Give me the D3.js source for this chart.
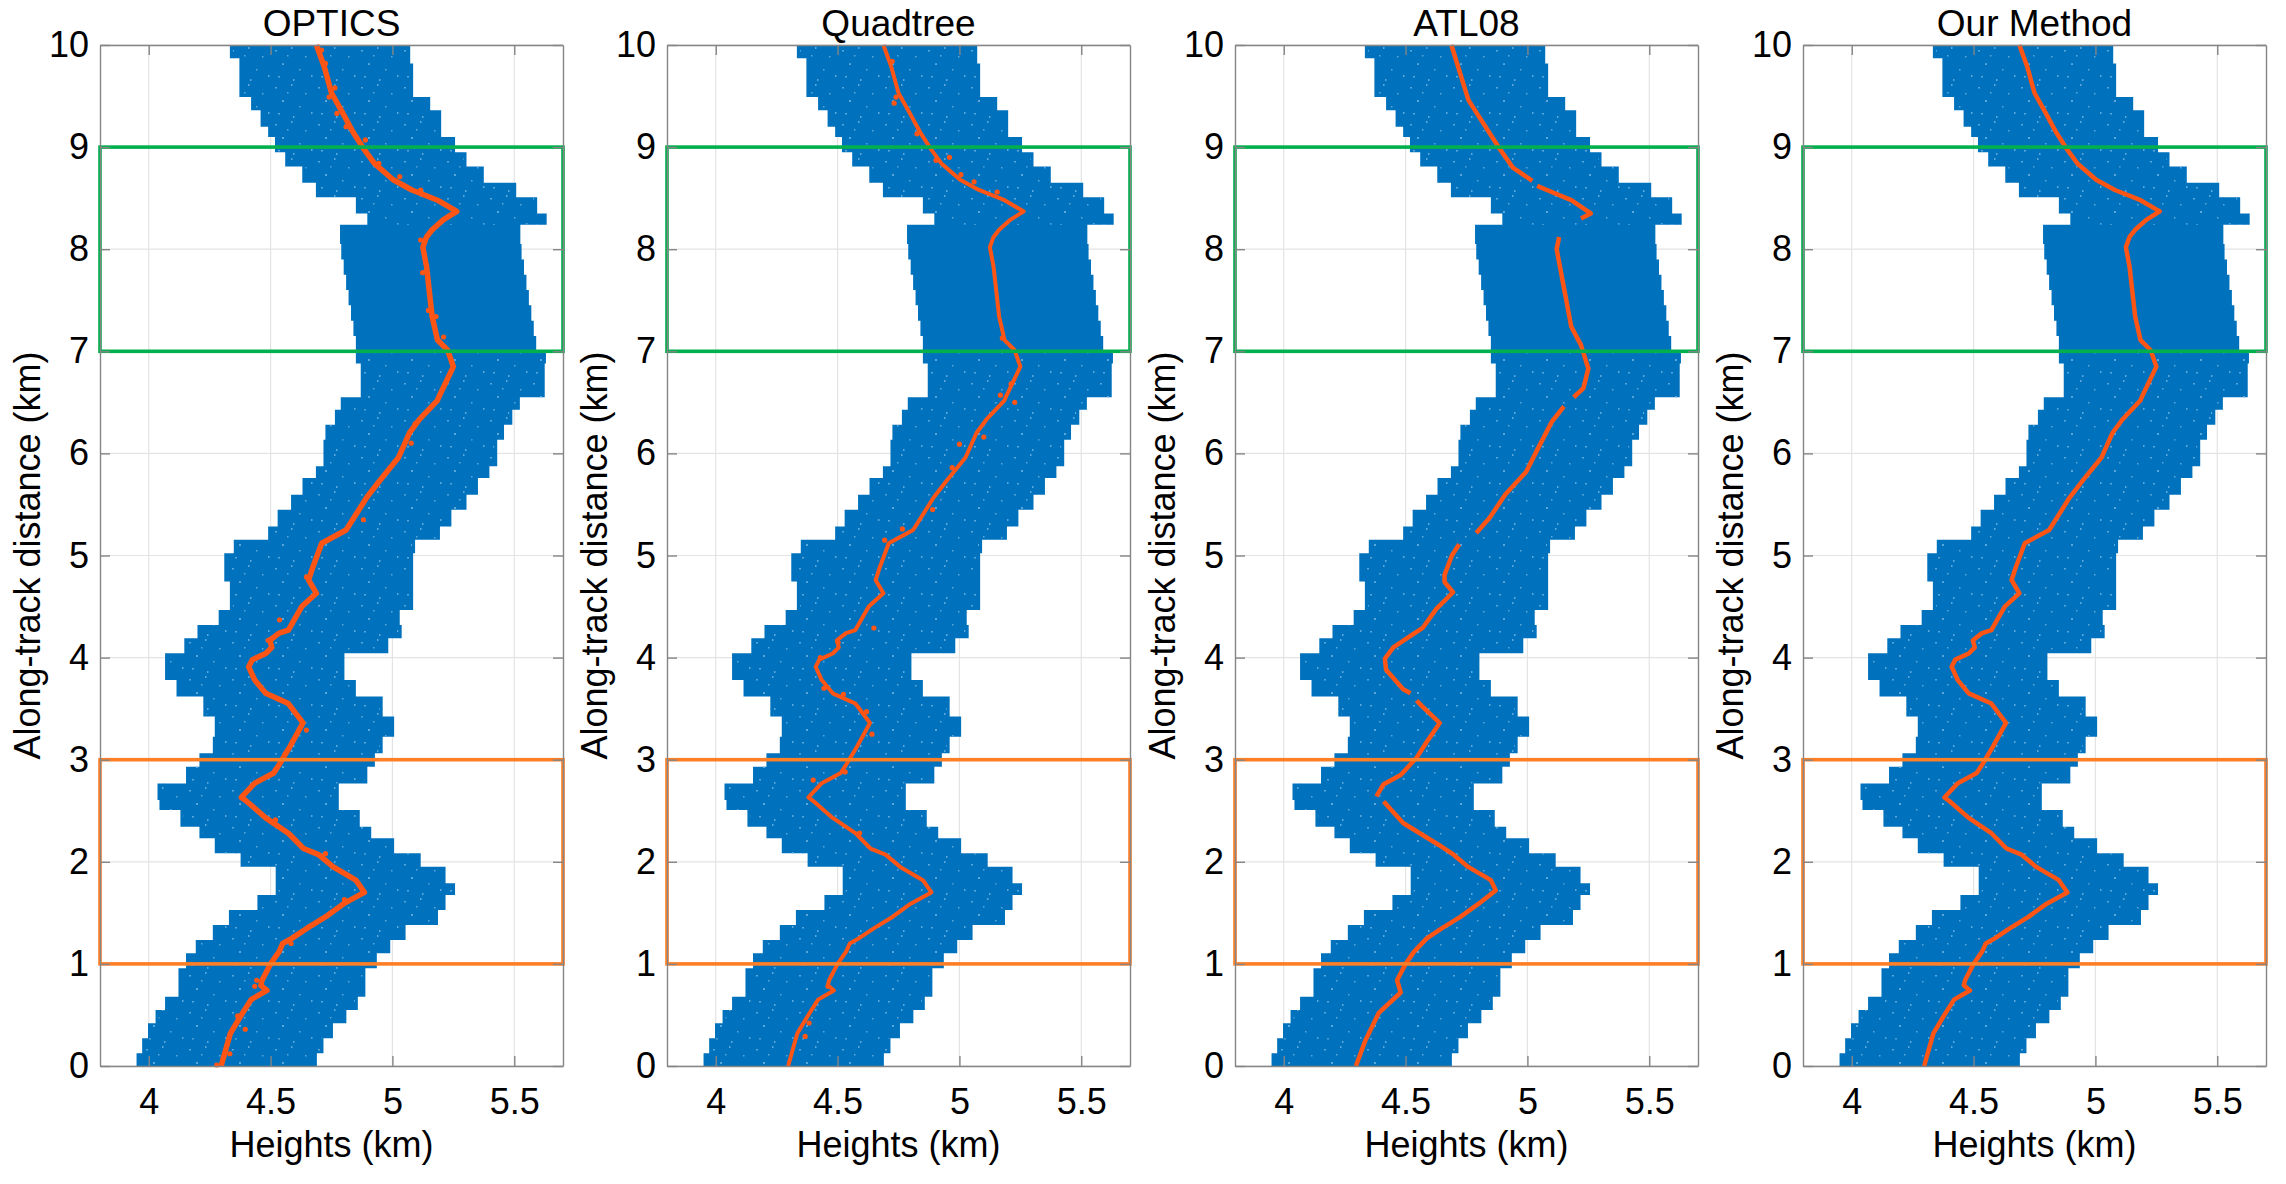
<!DOCTYPE html>
<html>
<head>
<meta charset="utf-8">
<script src="https://cdn.jsdelivr.net/npm/d3@7"></script>
<style>
body { margin: 0; background: #fff; }
svg { display: block; }
text { font-family: "Liberation Sans", Arial, sans-serif; fill: #000; }
</style>
</head>
<body>
<svg id="chart" width="2286" height="1184"></svg>
<script>
// panel titles and ticks
var panelTitles = ["OPTICS", "Quadtree", "ATL08", "Our Method"];
var xTicks = [4, 4.5, 5, 5.5];
var yTicks = [0, 1, 2, 3, 4, 5, 6, 7, 8, 9, 10];

// photon band: row boundaries (km) and left / right edge of each row (km)
var bandBreaks = [0, 0.125, 0.271, 0.418, 0.549, 0.679, 0.957, 1.104, 1.234, 1.381, 1.528, 1.675, 1.789, 1.952,
  2.083, 2.23, 2.344, 2.507, 2.605, 2.768, 2.932, 3.063, 3.226, 3.422, 3.618, 3.781, 4.042, 4.19, 4.32,
  4.467, 4.746, 5.023, 5.154, 5.285, 5.448, 5.595, 5.758, 5.873, 6.134, 6.281, 6.428, 6.55, 6.88, 7.01,
  7.15, 7.3, 7.45, 7.6, 7.75, 7.9, 8.05, 8.24, 8.35, 8.51, 8.65, 8.81, 8.95, 9.1, 9.2, 9.36, 9.49, 9.82,
  9.87, 10];
var bandLeft = [3.95, 3.973, 3.997, 4.028, 4.067, 4.122, 4.153, 4.193, 4.263, 4.329, 4.446, 4.521, 4.521,
  4.377, 4.271, 4.208, 4.13, 4.044, 4.036, 4.153, 4.208, 4.263, 4.271, 4.224, 4.114, 4.067, 4.146, 4.2,
  4.287, 4.333, 4.31, 4.349, 4.49, 4.529, 4.584, 4.631, 4.686, 4.717, 4.725, 4.764, 4.788, 4.87, 4.85,
  4.85, 4.84, 4.83, 4.82, 4.81, 4.8, 4.79, 4.785, 4.897, 4.85, 4.686, 4.63, 4.56, 4.518, 4.49, 4.459,
  4.42, 4.372, 4.372, 4.333];
var bandRight = [4.69, 4.717, 4.756, 4.811, 4.858, 4.889, 4.936, 4.991, 5.054, 5.187, 5.218, 5.257, 5.218,
  5.116, 5.007, 4.913, 4.866, 4.78, 4.78, 4.897, 4.928, 4.96, 5.007, 4.96, 4.85, 4.803, 4.983, 5.038,
  5.03, 5.085, 5.085, 5.093, 5.195, 5.242, 5.304, 5.351, 5.398, 5.43, 5.458, 5.492, 5.523, 5.625, 5.63,
  5.59, 5.58, 5.57, 5.56, 5.55, 5.54, 5.53, 5.525, 5.633, 5.594, 5.508, 5.375, 5.304, 5.257, 5.2, 5.2,
  5.155, 5.085, 5.073, 5.073];
// dense (noise free) stretch of the band, km
var denseBlock = [7.01, 8.24];

// extracted ground surface (OPTICS, Quadtree and Our Method follow the same path)
var groundY = [0, 0.32, 0.48, 0.65, 0.74, 0.79, 0.84, 1.0, 1.12, 1.2, 1.25, 1.35, 1.46, 1.59, 1.7, 1.82,
  1.95, 2.07, 2.13, 2.28, 2.43, 2.6, 2.63, 2.77, 2.87, 2.97, 3.13, 3.36, 3.55, 3.65, 3.78, 3.91, 3.98,
  4.04, 4.1, 4.17, 4.24, 4.27, 4.5, 4.63, 4.76, 4.89, 5.12, 5.25, 5.57, 5.74, 5.96, 6.2, 6.33, 6.52,
  6.55, 6.85, 7.01, 7.11, 7.34, 7.83, 8.02, 8.12, 8.19, 8.29, 8.37, 8.48, 8.58, 8.68, 8.84, 8.97, 9.14,
  9.36, 9.53, 9.79, 10];
var groundX = [4.297, 4.335, 4.375, 4.42, 4.485, 4.46, 4.465, 4.5, 4.535, 4.55, 4.587, 4.65, 4.725, 4.8,
  4.885, 4.85, 4.757, 4.697, 4.635, 4.573, 4.48, 4.398, 4.38, 4.435, 4.513, 4.54, 4.58, 4.633, 4.573,
  4.48, 4.435, 4.41, 4.425, 4.48, 4.505, 4.497, 4.535, 4.573, 4.628, 4.688, 4.656, 4.674, 4.71, 4.81,
  4.895, 4.95, 5.025, 5.07, 5.11, 5.185, 5.19, 5.25, 5.227, 5.185, 5.163, 5.14, 5.125, 5.14, 5.163,
  5.21, 5.264, 5.185, 5.08, 5.003, 4.926, 4.886, 4.84, 4.79, 4.75, 4.72, 4.688];

// ATL08 ground, null marks a gap
var atl08Y = [0, 0.25, 0.52, 0.72, 0.84, 1.0, 1.12, 1.25, 1.35, 1.46, 1.59, 1.72, 1.82, 1.95, 2.07, 2.16,
  2.38, 2.59, 2.61, 2.64, 2.76, 2.85, 3.02, 3.17, 3.36, 3.53, 3.58, 3.61, 3.65, 3.69, 3.88, 3.99, 4.1,
  4.18, 4.29, 4.48, 4.64, 4.74, 4.81, 5.0, 5.11, 5.16, 5.22, 5.37, 5.6, 5.82, 6.01, 6.31, 6.46, 6.5,
  6.55, 6.64, 6.83, 7.06, 7.24, 7.62, 8.0, 8.12, 8.2, 8.3, 8.35, 8.48, 8.58, 8.62, 8.64, 8.67, 8.8,
  8.97, 9.46, 10];
var atl08X = [4.296, 4.335, 4.39, 4.48, 4.465, 4.5, 4.535, 4.587, 4.65, 4.725, 4.8, 4.87, 4.85, 4.757,
  4.697, 4.64, 4.49, 4.41, null, 4.38, 4.41, 4.48, 4.545, 4.586, 4.64, 4.565, 4.545, null, 4.52, 4.49,
  4.42, 4.415, 4.45, 4.5, 4.57, 4.627, 4.695, 4.66, 4.66, 4.69, 4.72, null, 4.79, 4.845, 4.91, 4.995,
  5.035, 5.1, 5.15, null, 5.19, 5.23, 5.25, 5.22, 5.18, 5.15, 5.12, 5.13, null, 5.22, 5.26, 5.18, 5.08,
  5.04, null, 5.02, 4.94, 4.89, 4.758, 4.688];

// scattered surface photons left by OPTICS and Quadtree
var opticsNoiseX = [4.709, 4.725, 4.764, 4.74, 4.772, 4.81, 4.889, 4.944, 5.03, 5.116, 5.163, 5.116, 5.124,
  5.148, 5.179, 5.21, 5.093, 5.077, 4.881, 4.647, 4.537, 4.49, 4.537, 4.647, 4.56, 4.52, 4.52, 4.725,
  4.803, 4.584, 4.443, 4.435, 4.365, 4.396, 4.279, 4.333];
var opticsNoiseY = [9.95, 9.82, 9.58, 9.49, 9.33, 9.2, 9.07, 8.84, 8.71, 8.58, 8.19, 8.09, 7.77, 7.4, 7.34,
  7.14, 6.29, 6.1, 5.35, 4.79, 4.37, 4.17, 3.59, 3.29, 3.06, 2.9, 2.41, 2.08, 1.63, 1.2, 0.84, 0.78, 0.49,
  0.36, 0.01, 0.12];
var quadNoiseX = [4.724, 4.74, 4.732, 4.826, 4.904, 4.959, 5.006, 5.06, 5.155, 5.176, 5.212, 5.168, 5.227,
  5.1, 5.0, 4.97, 4.89, 4.766, 4.693, 4.649, 4.502, 4.429, 4.444, 4.524, 4.619, 4.641, 4.4, 4.531, 4.59,
  4.461, 4.367, 4.383];
var quadNoiseY = [9.84, 9.49, 9.43, 9.13, 8.87, 8.9, 8.73, 8.66, 8.56, 7.13, 6.68, 6.57, 6.5, 6.16, 6.09,
  5.86, 5.45, 5.26, 5.15, 4.29, 4.15, 4.0, 3.7, 3.64, 3.47, 3.25, 2.8, 2.88, 2.28, 0.78, 0.29, 0.42];

// highlighted along-track windows (km)
var greenWindow = [7, 9];
var orangeWindow = [1, 3];

var panelLeft = [100, 667, 1235, 1803];
var plotW = 463, plotH = 1021, plotTop = 45;
var blue = "#0072BD", red = "#FF5514";

var svg = d3.select("#chart");

// light speckle texture for the sparser parts of the photon band
var defs = svg.append("defs");
var pat = defs.append("pattern").attr("id", "speckle")
  .attr("patternUnits", "userSpaceOnUse").attr("width", 43).attr("height", 37);
[[3, 5], [19, 2], [33, 11], [10, 18], [27, 24], [39, 30], [6, 31], [21, 34], [15, 10]].forEach(function(s, k) {
  pat.append("rect").attr("x", s[0]).attr("y", s[1])
    .attr("width", k % 3 == 0 ? 2 : 1.5).attr("height", k % 2 == 0 ? 1.5 : 2)
    .attr("fill", "#5aa8dc");
});

var bandRows = bandLeft.map(function(l, i) {
  return { y0: bandBreaks[i], y1: bandBreaks[i + 1], left: l, right: bandRight[i] };
});
var ground = groundY.map(function(v, i) { return { y: v, x: groundX[i] }; });
var atl08 = atl08Y.map(function(v, i) { return { y: v, x: atl08X[i] }; });
var opticsNoise = opticsNoiseX.map(function(v, i) { return { x: v, y: opticsNoiseY[i] }; });
var quadNoise = quadNoiseX.map(function(v, i) { return { x: v, y: quadNoiseY[i] }; });

panelTitles.forEach(function(title, p) {
  var g = svg.append("g")
    .attr("transform", "translate(" + panelLeft[p] + "," + plotTop + ")");

  var x = d3.scaleLinear().domain([3.8, 5.7]).range([0, plotW]);
  var y = d3.scaleLinear().domain([0, 10]).range([plotH, 0]);

  // grid
  g.selectAll(".gx").data(xTicks).enter().append("line")
    .attr("x1", function(d) { return x(d); }).attr("x2", function(d) { return x(d); })
    .attr("y1", 0).attr("y2", plotH)
    .attr("stroke", "#e3e3e3").attr("stroke-width", 1.2);
  g.selectAll(".gy").data(yTicks).enter().append("line")
    .attr("y1", function(d) { return y(d); }).attr("y2", function(d) { return y(d); })
    .attr("x1", 0).attr("x2", plotW)
    .attr("stroke", "#e3e3e3").attr("stroke-width", 1.2);

  // photon band as one stepped outline
  var pts = [];
  bandRows.forEach(function(r) {
    pts.push([x(r.right), y(r.y0)]);
    pts.push([x(r.right), y(r.y1)]);
  });
  bandRows.slice().reverse().forEach(function(r) {
    pts.push([x(r.left), y(r.y1)]);
    pts.push([x(r.left), y(r.y0)]);
  });
  g.append("path")
    .attr("d", d3.line()(pts) + "Z")
    .attr("fill", blue);
  // speckles everywhere except the dense stretch
  g.selectAll(".spk").data(bandRows.filter(function(r) {
      return r.y1 <= denseBlock[0] || r.y0 >= denseBlock[1];
    })).enter().append("rect")
    .attr("x", function(d) { return x(d.left) + 3; })
    .attr("width", function(d) { return x(d.right) - x(d.left) - 6; })
    .attr("y", function(d) { return y(d.y1); })
    .attr("height", function(d) { return y(d.y0) - y(d.y1); })
    .attr("fill", "url(#speckle)");

  var surface = d3.line()
    .defined(function(d) { return d.x != null; })
    .x(function(d) { return x(d.x); })
    .y(function(d) { return y(d.y); });

  if (p == 2) {
    g.append("path").datum(atl08)
      .attr("d", surface)
      .attr("fill", "none").attr("stroke", red)
      .attr("stroke-width", 4.5).attr("stroke-linejoin", "round");
  } else {
    g.append("path").datum(ground)
      .attr("d", surface)
      .attr("fill", "none").attr("stroke", red)
      .attr("stroke-width", p == 0 ? 5.5 : (p == 1 ? 4 : 4.5))
      .attr("stroke-linejoin", "round");
  }
  if (p < 2) {
    g.selectAll(".noise").data(p == 0 ? opticsNoise : quadNoise).enter().append("circle")
      .attr("cx", function(d) { return x(d.x); })
      .attr("cy", function(d) { return y(d.y); })
      .attr("r", 2.6)
      .attr("fill", red);
  }

  // highlight windows
  g.append("rect")
    .attr("x", x(3.8)).attr("width", x(5.7) - x(3.8))
    .attr("y", y(greenWindow[1])).attr("height", y(greenWindow[0]) - y(greenWindow[1]))
    .attr("fill", "none").attr("stroke", "#00B04F").attr("stroke-width", 3.6);
  g.append("rect")
    .attr("x", x(3.8)).attr("width", x(5.7) - x(3.8))
    .attr("y", y(orangeWindow[1])).attr("height", y(orangeWindow[0]) - y(orangeWindow[1]))
    .attr("fill", "none").attr("stroke", "#FF7F27").attr("stroke-width", 3.6);

  // axes, ticks inward on all four sides
  var ax = g.append("g").attr("transform", "translate(0," + plotH + ")")
    .call(d3.axisBottom(x).tickValues(xTicks).tickSizeInner(-10).tickSizeOuter(0).tickPadding(22)
      .tickFormat(d3.format("")));
  var ay = g.append("g")
    .call(d3.axisLeft(y).tickValues(yTicks).tickSizeInner(-10).tickSizeOuter(0).tickPadding(11));
  var at = g.append("g")
    .call(d3.axisTop(x).tickValues(xTicks).tickSizeInner(-10).tickSizeOuter(0).tickFormat(""));
  var ar = g.append("g").attr("transform", "translate(" + plotW + ",0)")
    .call(d3.axisRight(y).tickValues(yTicks).tickSizeInner(-10).tickSizeOuter(0).tickFormat(""));
  [ax, ay, at, ar].forEach(function(a) {
    a.select(".domain").attr("stroke", "#858585").attr("stroke-width", 1.4);
    a.selectAll(".tick line").attr("stroke", "#858585").attr("stroke-width", 1.4);
    a.selectAll("text").attr("font-size", 36).attr("fill", "#111")
      .attr("font-family", "Liberation Sans, Arial, sans-serif");
  });

  // titles and labels
  g.append("text")
    .attr("x", plotW / 2).attr("y", -9)
    .attr("text-anchor", "middle").attr("font-size", 37)
    .text(title);
  g.append("text")
    .attr("x", plotW / 2).attr("y", plotH + 91)
    .attr("text-anchor", "middle").attr("font-size", 36)
    .text("Heights (km)");
  g.append("text")
    .attr("transform", "translate(-60," + (plotH / 2) + ") rotate(-90)")
    .attr("text-anchor", "middle").attr("font-size", 36)
    .text("Along-track distance (km)");
});
</script>
</body>
</html>
